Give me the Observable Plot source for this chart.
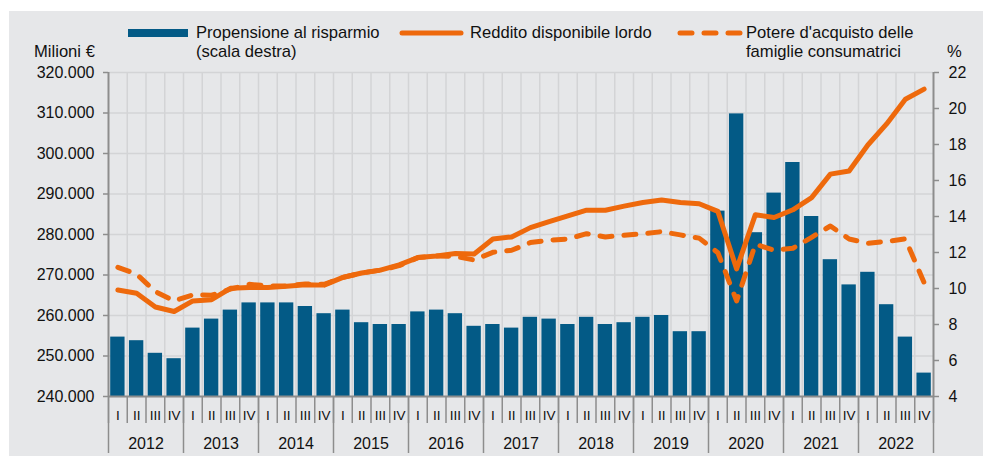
<!DOCTYPE html>
<html>
<head>
<meta charset="utf-8">
<script src="https://cdn.jsdelivr.net/npm/d3@7"></script>
<script src="https://cdn.jsdelivr.net/npm/@observablehq/plot@0.6"></script>
<style>
  html, body { margin: 0; padding: 0; background: #ffffff; }
  #wrap { position: relative; width: 983px; height: 458px; overflow: hidden; font-family: "Liberation Sans", Arial, sans-serif; color: #111; }
  #panel { position: absolute; left: 9px; top: 11px; width: 974px; height: 445px; background: #e6e7e9; }
  .lg { position: absolute; font-size: 16.6px; line-height: 19px; white-space: nowrap; }
  #chart { position: absolute; left: 0; top: 0; }
  svg.sw { position: absolute; overflow: visible; }
</style>
</head>
<body>
<div id="wrap">
  <div id="panel"></div>
  <div id="chart"></div>
  <div id="legend"></div>
</div>
<script>
// ---- Data ----
const years = [2012, 2013, 2014, 2015, 2016, 2017, 2018, 2019, 2020, 2021, 2022];
const quarters = ["I", "II", "III", "IV"];
// Propensione al risparmio (%), scala destra
const savingsRate = [7.3, 7.1, 6.4, 6.1, 7.8, 8.3, 8.8, 9.2, 9.2, 9.2, 9.0, 8.6,
  8.8, 8.1, 8.0, 8.0, 8.7, 8.8, 8.6, 7.9, 8.0, 7.8, 8.4, 8.3,
  8.0, 8.4, 8.0, 8.1, 8.4, 8.5, 7.6, 7.6, 14.3, 19.7, 13.1, 15.3,
  17.0, 14.0, 11.6, 10.2, 10.9, 9.1, 7.3, 5.3];
// Reddito disponibile lordo (milioni €)
const income = [266300, 265500, 262100, 261000, 263600, 263900, 266700, 266900, 266900, 267200, 267600, 267500,
  269400, 270500, 271200, 272500, 274300, 274700, 275300, 275200, 278900, 279400, 281700, 283200,
  284600, 286000, 286000, 287000, 287900, 288500, 287900, 287600, 285700, 271500, 284900, 284200,
  286100, 289100, 294900, 295700, 302100, 307300, 313400, 315900];
// Potere d'acquisto delle famiglie consumatrici (milioni €)
const purchasingPower = [271900, 270200, 265900, 263600, 265100, 265000, 266500, 267700, 267300, 267300, 267800, 267700,
  269400, 270500, 271200, 272300, 274300, 274700, 274600, 273700, 275600, 276100, 278000, 278600,
  278900, 280200, 279400, 279800, 280200, 280700, 279900, 279100, 275500, 263600, 277600, 276100,
  276600, 279300, 282100, 278900, 277800, 278300, 278900, 268100];
const leftTicks = [240000, 250000, 260000, 270000, 280000, 290000, 300000, 310000, 320000];
const rightTicks = [4, 6, 8, 10, 12, 14, 16, 18, 20, 22];

// ---- Scales helpers ----
const L0 = 240000, L1 = 320000, R0 = 4, R1 = 22;
const toLeft = v => L0 + (v - R0) / (R1 - R0) * (L1 - L0);
const fromLeft = v => R0 + (v - L0) / (L1 - L0) * (R1 - R0);
const itFmt = d3.formatLocale({decimal: ",", thousands: ".", grouping: [3], currency: ["", "€"]}).format(",");

const idx = d3.range(income.length);
const n = idx.length;
const blue = "#035a86";
const orange = "#ee690c";
const axisGray = "#8d8d8d";
const gridGray = "#d3d4d6";

const chart = Plot.plot({
  width: 983,
  height: 458,
  marginLeft: 108,
  marginRight: 50,
  marginTop: 72,
  marginBottom: 62,
  style: {background: "transparent", fontFamily: "'Liberation Sans', Arial, sans-serif", fontSize: "16px", color: "#111"},
  x: {domain: [0, n], axis: null},
  y: {domain: [L0, L1], axis: null},
  marks: [
    Plot.gridY(leftTicks, {stroke: gridGray, strokeOpacity: 1, strokeWidth: 1.5}),
    Plot.gridX(d3.range(1, n), {stroke: gridGray, strokeOpacity: 1, strokeWidth: 1.5}),
    Plot.rectY(idx, {x1: i => i, x2: i => i + 1, y1: L0, y2: i => toLeft(savingsRate[i]), insetLeft: 2.2, insetRight: 2.2, fill: blue}),
    Plot.line(idx, {x: i => i + 0.5, y: i => income[i], stroke: orange, strokeWidth: 5, strokeLinejoin: "round", strokeLinecap: "round"}),
    Plot.line(idx, {x: i => i + 0.5, y: i => purchasingPower[i], stroke: orange, strokeWidth: 5, strokeLinejoin: "round", strokeLinecap: "round", strokeDasharray: "12,12"}),
    Plot.ruleX([0, n], {stroke: axisGray, strokeWidth: 2}),
    Plot.ruleY([L0], {stroke: axisGray, strokeWidth: 2}),
    Plot.axisY(leftTicks, {anchor: "left", tickSize: 5, tickPadding: 9, stroke: axisGray, strokeWidth: 1.5, fill: "#111", fontSize: 16, tickFormat: d => itFmt(d)}),
    Plot.axisY(rightTicks.map(toLeft), {anchor: "right", tickSize: 5, tickPadding: 10, stroke: axisGray, strokeWidth: 1.5, fill: "#111", fontSize: 16, tickFormat: d => String(Math.round(fromLeft(d)))}),
    Plot.axisX(d3.range(0, n + 1), {anchor: "bottom", tickSize: 27, tickFormat: () => "", stroke: axisGray, strokeWidth: 1.5}),
    Plot.axisX(d3.range(0, n + 1, 4), {anchor: "bottom", tickSize: 57, tickFormat: () => "", stroke: axisGray, strokeWidth: 1.5}),
    Plot.axisX(idx.map(i => i + 0.5), {anchor: "bottom", tickSize: 0, tickPadding: 14, fill: "#111", fontSize: 13.5, tickFormat: d => quarters[Math.floor(d) % 4]}),
    Plot.axisX(years.map((y, k) => 4 * k + 2), {anchor: "bottom", tickSize: 0, tickPadding: 41, fill: "#111", fontSize: 16, tickFormat: d => String(years[Math.round((d - 2) / 4)])})
  ]
});
document.getElementById("chart").appendChild(chart);

// ---- Legend ----
const legend = document.getElementById("legend");
legend.innerHTML = `
  <div style="position:absolute;left:128px;top:29px;width:60px;height:8px;background:${blue}"></div>
  <div class="lg" style="left:196px;top:23px">Propensione al risparmio<br>(scala destra)</div>
  <svg class="sw" style="left:0;top:0" width="983" height="60">
    <line x1="402" y1="33" x2="461" y2="33" stroke="${orange}" stroke-width="5" stroke-linecap="round"/>
    <line x1="680" y1="33" x2="740" y2="33" stroke="${orange}" stroke-width="5" stroke-linecap="round" stroke-dasharray="12,12"/>
  </svg>
  <div class="lg" style="left:470px;top:23px">Reddito disponibile lordo</div>
  <div class="lg" style="left:746px;top:23px">Potere d'acquisto delle<br>famiglie consumatrici</div>
  <div class="lg" style="left:34px;top:42px">Milioni €</div>
  <div class="lg" style="left:947px;top:42px">%</div>
`;
</script>
</body>
</html>
